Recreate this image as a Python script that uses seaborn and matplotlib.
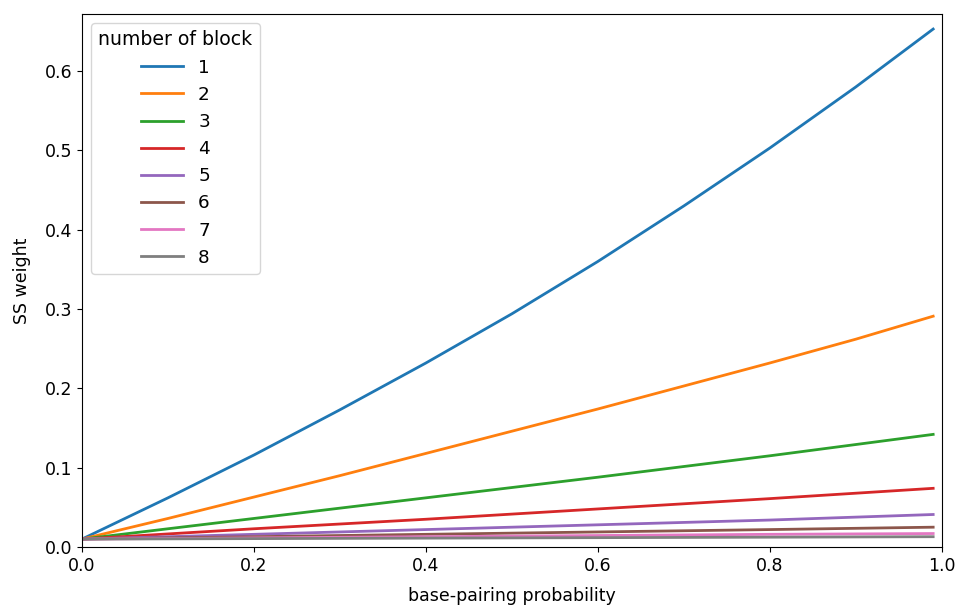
import matplotlib
matplotlib.use("Agg")
import matplotlib.pyplot as plt
import seaborn as sns
import pandas as pd

# values
prob_fine = [0.0, 0.1, 0.2, 0.3, 0.4, 0.5, 0.6, 0.7, 0.8, 0.9, 0.99]
prob = [0.0, 0.2, 0.4, 0.6, 0.8, 0.99]

block_1 = [0.010, 0.062, 0.116, 0.173, 0.232, 0.294, 0.360, 0.430, 0.503, 0.580, 0.653]
block_2 = [0.010, 0.036, 0.063, 0.090, 0.118, 0.146, 0.174, 0.203, 0.232, 0.262, 0.291]
block_3 = [0.010, 0.036, 0.062, 0.088, 0.115, 0.142]
block_4 = [0.010, 0.023, 0.035, 0.048, 0.061, 0.074]
block_5 = [0.010, 0.016, 0.022, 0.028, 0.034, 0.041]
block_6 = [0.010, 0.013, 0.016, 0.019, 0.022, 0.025]
block_7 = [0.010, 0.0115, 0.013, 0.0145, 0.016, 0.017]
block_8 = [0.010, 0.0106, 0.0112, 0.0118, 0.0124, 0.013]

series = [(block_1, prob_fine), (block_2, prob_fine), (block_3, prob), (block_4, prob),
          (block_5, prob), (block_6, prob), (block_7, prob), (block_8, prob)]
rows = []
for i, (vals, xs) in enumerate(series, start=1):
    for p, w in zip(xs, vals):
        rows.append({"base-pairing probability": p, "SS weight": w, "number of block": i})
df = pd.DataFrame(rows)

plt.rcParams['font.family'] = ['DejaVu Sans']
plt.rcParams['font.size'] = 12.5

fig = plt.figure(figsize=(9.6, 6.08), dpi=100)
ax = fig.add_axes([0.0854, 0.1003, 0.8956, 0.8767])
sns.lineplot(data=df, x="base-pairing probability", y="SS weight",
             hue="number of block", palette="tab10", linewidth=2, ax=ax)
ax.set_xlim(0, 1.0)
ax.set_ylim(0, 0.672)
ax.set_xlabel("base-pairing probability", labelpad=9)
ax.set_ylabel("SS weight", labelpad=10)
ax.legend(title="number of block", loc="upper left", fontsize=13.2,
          title_fontsize=13.6, handlelength=2.3)

fig.savefig("out.png", dpi=100)
